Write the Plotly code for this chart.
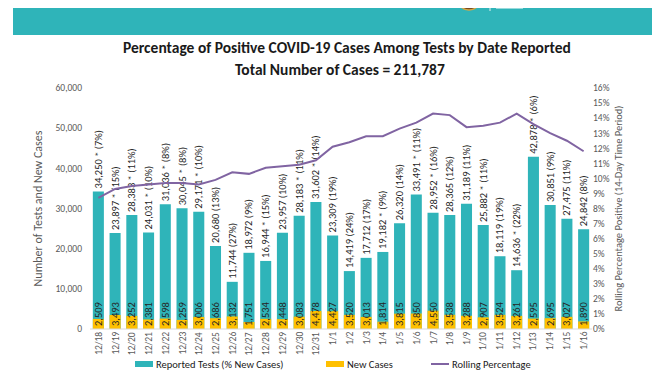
import plotly.graph_objects as go

dates = ["12/18","12/19","12/20","12/21","12/22","12/23","12/24","12/25","12/26","12/27",
         "12/28","12/29","12/30","12/31","1/1","1/2","1/3","1/4","1/5","1/6",
         "1/7","1/8","1/9","1/10","1/11","1/12","1/13","1/14","1/15","1/16"]
reported_tests = [34250,23897,28383,24031,31036,30045,29171,20680,11744,18972,
                  16944,23957,28183,31602,23309,14419,17712,19182,26320,33491,
                  28952,28365,31189,25882,18119,14636,42878,30851,27475,24842]
pct_new = [7,15,11,10,8,8,10,13,27,9,15,10,11,14,19,24,17,9,14,11,16,12,11,11,19,22,6,9,11,8]
asterisk = [1,1,1,1,1,1,1,0,0,0,1,0,1,1,0,0,0,1,0,1,1,0,0,1,0,1,1,0,0,0]
new_cases = [2509,3493,3252,2381,2598,2259,3006,2686,3132,1751,
             2534,2448,3083,4478,4427,3520,3013,1814,3815,3850,
             4550,3538,3288,2907,3524,3261,2595,2695,3027,1890]
rolling_pct = [8.7,9.3,9.5,9.6,9.7,9.7,9.6,9.9,10.4,10.3,
               10.7,10.8,10.9,11.2,12.1,12.4,12.8,12.8,13.3,13.7,
               14.3,14.2,13.4,13.5,13.7,14.3,13.6,13.0,12.5,11.8]
series_names = ["Reported Tests (% New Cases)", "New Cases", "Rolling Percentage"]

FONT = "Carlito, 'Liberation Sans Narrow', Lato, sans-serif"
TEAL = "#2FB4B9"
YELLOW = "#FFC000"
PURPLE = "#8064A2"

test_labels = [f"{t:,}{' *' if a else ''} ({p}%)" for t, a, p in zip(reported_tests, asterisk, pct_new)]
new_labels = [f"{n:,}" for n in new_cases]

fig = go.Figure()
fig.add_trace(go.Bar(
    x=dates, y=reported_tests, name=series_names[0],
    marker=dict(color=TEAL, line=dict(width=0)),
    text=test_labels, textposition="outside", textangle=-90,
    textfont=dict(family=FONT, size=10.5, color="#262626"),
    constraintext="none", cliponaxis=False, hoverinfo="skip",
))
fig.add_trace(go.Bar(
    x=dates, y=new_cases, name=series_names[1],
    marker=dict(color=YELLOW, line=dict(width=0)),
    text=new_labels, textposition="inside", insidetextanchor="start", textangle=-90,
    insidetextfont=dict(family=FONT, size=10.5, color="#262626"),
    constraintext="none", cliponaxis=False, hoverinfo="skip",
))
fig.add_trace(go.Scatter(
    x=dates, y=[v / 100 for v in rolling_pct], name=series_names[2],
    mode="lines", line=dict(color=PURPLE, width=2), yaxis="y2", hoverinfo="skip",
))

# The page body adds an 8px offset; target page pixels are converted to figure coords.
W, H = 672, 372
OFF = 8
L, R, T, B = 90 - OFF, 592 - OFF, 88 - OFF, 329 - OFF
def px(x): return (x - OFF - L) / (R - L)
def py(y): return (B - (y - OFF)) / (B - T)

shapes = [
    dict(type="rect", xref="paper", yref="paper", x0=px(13), x1=px(652), y0=py(35), y1=py(-20),
         fillcolor="#2FB4B9", line=dict(width=0), layer="below"),
    dict(type="circle", xref="paper", yref="paper", x0=px(457), x1=px(481), y0=py(10), y1=py(-14),
         fillcolor="#7A4A20", line=dict(color="#D4A845", width=1.5)),
    dict(type="line", xref="paper", yref="paper", x0=px(490), x1=px(490), y0=py(11), y1=py(-2),
         line=dict(color="#DDEFF0", width=1)),
    dict(type="rect", xref="paper", yref="paper", x0=px(496), x1=px(523), y0=py(8), y1=py(-5),
         fillcolor="#B8CF3E", line=dict(color="#FFFFFF", width=1)),
    dict(type="line", xref="paper", yref="paper", x0=0, x1=1, y0=0, y1=0,
         line=dict(color="#D9D9D9", width=1)),
    # legend keys
    dict(type="rect", xref="paper", yref="paper", x0=px(135), x1=px(153), y0=py(367), y1=py(361),
         fillcolor=TEAL, line=dict(width=0)),
    dict(type="rect", xref="paper", yref="paper", x0=px(326), x1=px(344), y0=py(367), y1=py(361),
         fillcolor=YELLOW, line=dict(width=0)),
    dict(type="line", xref="paper", yref="paper", x0=px(431), x1=px(449), y0=py(364), y1=py(364),
         line=dict(color=PURPLE, width=2)),
]

annotations = [
    dict(text="<b>COVID-19 Percentage Positive</b>", xref="paper", yref="paper",
         x=px(30), y=py(12), xanchor="left", yanchor="bottom", showarrow=False,
         font=dict(family=FONT, size=25, color="white")),
    dict(text="SAN DIEGO", xref="paper", yref="paper",
         x=px(527), y=py(12), xanchor="left", yanchor="bottom", showarrow=False,
         font=dict(family=FONT, size=19, color="white")),
    dict(text="<b>Percentage of Positive COVID-19 Cases Among Tests by Date Reported</b>",
         xref="paper", yref="paper", x=px(347), y=py(48), xanchor="center", yanchor="middle",
         showarrow=False, font=dict(family=FONT, size=15.5, color="#1a1a1a")),
    dict(text="<b>Total Number of Cases = 211,787</b>",
         xref="paper", yref="paper", x=px(340), y=py(69), xanchor="center", yanchor="middle",
         showarrow=False, font=dict(family=FONT, size=15.5, color="#1a1a1a")),
]
# legend texts
for name, lx in zip(series_names, [154, 345, 450]):
    annotations.append(dict(text=name, xref="paper", yref="paper", x=px(lx), y=py(364),
                            xanchor="left", yanchor="middle", showarrow=False,
                            font=dict(family=FONT, size=10.5, color="#1a1a1a")))
# category labels under the axis, placed through the x scale
for d in dates:
    annotations.append(dict(text=d, xref="x", yref="paper", x=d, y=0, yshift=-2,
                            xanchor="center", yanchor="top", textangle=-90, showarrow=False,
                            borderpad=0, font=dict(family=FONT, size=9.5, color="#595959")))

fig.update_layout(
    width=W, height=H,
    margin=dict(l=L, r=W - R, t=T, b=H - B, autoexpand=False),
    paper_bgcolor="white", plot_bgcolor="white",
    barmode="overlay", bargap=0.34,
    font=dict(family=FONT, color="#595959", size=9.5),
    showlegend=False,
    xaxis=dict(type="category", showticklabels=False, showgrid=False, showline=False, ticks=""),
    yaxis=dict(range=[0, 60000], dtick=10000, tickformat=",", showgrid=False, zeroline=False,
               showline=False, ticks="", ticklabelstandoff=7,
               title=dict(text="Number of Tests and New Cases", standoff=10,
                          font=dict(family=FONT, size=12, color="#595959"))),
    yaxis2=dict(range=[0, 0.16], dtick=0.01, tickformat=".0%", overlaying="y", side="right",
                showgrid=False, zeroline=False, showline=False, ticks="",
                title=dict(text="Rolling Percentage Positive (14-Day Time Period)", standoff=6,
                           font=dict(family=FONT, size=10.5, color="#595959"))),
    shapes=shapes, annotations=annotations,
)

fig.write_html("out.html")
